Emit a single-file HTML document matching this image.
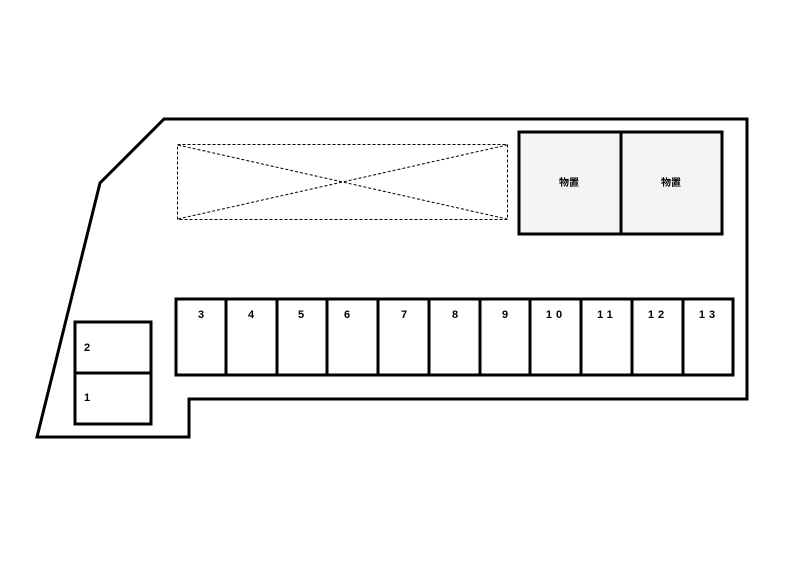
<!DOCTYPE html><html><head><style>body{margin:0;background:#fff}</style></head><body>
<svg width="785" height="556" xmlns="http://www.w3.org/2000/svg" font-family="Liberation Sans, Noto Sans CJK JP, sans-serif" font-weight="bold" font-size="11">
<polygon points="164,119 747,119 747,399 189,399 189,437 37,437 100,183" fill="none" stroke="#000" stroke-width="3"/>
<g stroke="#000" stroke-width="1" stroke-dasharray="3,2" fill="none">
<rect x="177.5" y="144.5" width="330" height="75"/>
<line x1="178" y1="145" x2="507" y2="219"/><line x1="178" y1="219" x2="507" y2="145"/>
</g>
<rect x="519" y="132" width="203" height="102" fill="#f4f4f4" stroke="#000" stroke-width="3"/>
<line x1="621" y1="132" x2="621" y2="234" stroke="#000" stroke-width="3"/>
<text x="569" y="186" text-anchor="middle" font-size="10">物置</text>
<text x="671" y="186" text-anchor="middle" font-size="10">物置</text>
<rect x="176" y="299" width="557" height="76" fill="none" stroke="#000" stroke-width="3"/>
<g stroke="#000" stroke-width="3">
<line x1="226" y1="299" x2="226" y2="375"/><line x1="277" y1="299" x2="277" y2="375"/><line x1="327" y1="299" x2="327" y2="375"/><line x1="378" y1="299" x2="378" y2="375"/><line x1="429" y1="299" x2="429" y2="375"/><line x1="480" y1="299" x2="480" y2="375"/><line x1="530" y1="299" x2="530" y2="375"/><line x1="581" y1="299" x2="581" y2="375"/><line x1="632" y1="299" x2="632" y2="375"/><line x1="683" y1="299" x2="683" y2="375"/>
</g>
<g text-anchor="middle">
<text x="201" y="318">3</text><text x="251" y="318">4</text><text x="301" y="318">5</text><text x="347" y="318">6</text><text x="404" y="318">7</text><text x="455" y="318">8</text><text x="505" y="318">9</text><text x="556" y="318" letter-spacing="4">10</text><text x="607" y="318" letter-spacing="4">11</text><text x="658" y="318" letter-spacing="4">12</text><text x="709" y="318" letter-spacing="4">13</text>
</g>
<rect x="75" y="322" width="76" height="102" fill="none" stroke="#000" stroke-width="3"/>
<line x1="75" y1="373" x2="151" y2="373" stroke="#000" stroke-width="3"/>
<text x="84" y="351">2</text><text x="84" y="401">1</text>
</svg></body></html>
